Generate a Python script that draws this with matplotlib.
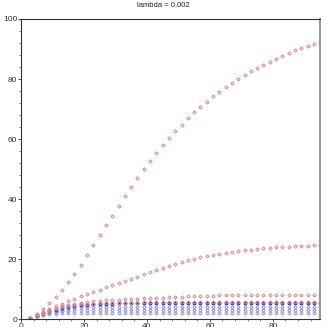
import matplotlib
matplotlib.use("Agg")
import matplotlib.pyplot as plt
from matplotlib.ticker import MultipleLocator

plt.rcParams['font.family'] = ['Liberation Sans', 'DejaVu Sans']

title = "lambda = 0.002"
x = list(range(3, 96, 2))

red1 = [0.5, 1.8, 3.5, 5.3, 7.3, 9.7, 12.3, 15.1, 18.1, 21.3, 24.6, 27.9, 31.2, 34.5, 37.7,
        41.0, 44.1, 47.1, 50.0, 52.8, 55.5, 58.0, 60.4, 62.6, 64.8, 66.9, 68.9, 70.7, 72.5,
        74.2, 75.7, 77.2, 78.6, 80.0, 81.3, 82.5, 83.7, 84.8, 85.8, 86.7, 87.7, 88.6, 89.5,
        90.3, 90.9, 91.7, 92.3]
red2 = [0.5, 1.5, 2.5, 3.4, 4.3, 5.2, 6.0, 6.8, 7.6, 8.4, 9.1, 9.8, 10.6, 11.3, 12.0,
        12.8, 13.5, 14.2, 15.0, 15.7, 16.4, 17.1, 17.8, 18.5, 19.1, 19.7, 20.2, 20.6, 21.0,
        21.4, 21.8, 22.2, 22.5, 22.8, 23.0, 23.2, 23.4, 23.6, 23.8, 24.0, 24.1, 24.2, 24.3,
        24.4, 24.5, 24.6, 24.7]
red3 = [0.5, 1.3, 2.2, 3.0, 3.7, 4.3, 4.8, 5.2, 5.5, 5.8, 6.0, 6.2, 6.3, 6.4, 6.5,
        6.6, 6.7, 6.8, 6.9, 7.0, 7.1, 7.2, 7.3, 7.4, 7.5, 7.6, 7.7, 7.7, 7.8,
        7.8, 7.9, 7.9, 7.9, 8.0, 8.0, 8.0, 8.0, 8.0, 8.0, 8.0, 8.0, 8.0, 8.0,
        8.0, 8.0, 8.0, 8.0]
red4 = [0.5, 1.2, 2.0, 2.8, 3.4, 3.9, 4.3, 4.6, 4.9, 5.1, 5.2, 5.3, 5.4, 5.4, 5.5,
        5.5, 5.5, 5.5, 5.6, 5.6, 5.6, 5.6, 5.6, 5.6, 5.6, 5.6, 5.6, 5.6, 5.6,
        5.6, 5.6, 5.6, 5.6, 5.6, 5.6, 5.6, 5.6, 5.6, 5.6, 5.6, 5.6, 5.6, 5.6,
        5.6, 5.6, 5.6, 5.6]
blue_dark = [0.5, 1.2, 1.9, 2.6, 3.2, 3.7, 4.1, 4.4, 4.6, 4.8, 5.0, 5.1, 5.2, 5.2, 5.3,
             5.3, 5.3, 5.3, 5.4, 5.4, 5.4, 5.4, 5.4, 5.4, 5.4, 5.5, 5.5, 5.5, 5.5,
             5.5, 5.5, 5.5, 5.5, 5.5, 5.5, 5.5, 5.5, 5.5, 5.5, 5.5, 5.5, 5.5, 5.5,
             5.5, 5.5, 5.5, 5.5]
blue1 = [0.5, 1.1, 1.7, 2.3, 2.8, 3.2, 3.5, 3.7, 3.9, 4.0, 4.1, 4.1, 4.2, 4.2, 4.2,
         4.2, 4.2, 4.2, 4.2, 4.2, 4.2, 4.2, 4.2, 4.2, 4.2, 4.2, 4.2, 4.2, 4.2,
         4.2, 4.2, 4.2, 4.2, 4.2, 4.2, 4.2, 4.2, 4.2, 4.2, 4.2, 4.2, 4.2, 4.2,
         4.2, 4.2, 4.2, 4.2]
blue2 = [0.5, 1.0, 1.5, 1.9, 2.3, 2.6, 2.8, 2.9, 3.0, 3.0, 3.1, 3.1, 3.1, 3.1, 3.1,
         3.1, 3.1, 3.1, 3.1, 3.1, 3.1, 3.1, 3.1, 3.1, 3.1, 3.1, 3.1, 3.1, 3.1,
         3.1, 3.1, 3.1, 3.1, 3.1, 3.1, 3.1, 3.1, 3.1, 3.1, 3.1, 3.1, 3.1, 3.1,
         3.1, 3.1, 3.1, 3.1]
blue3 = [0.5, 0.9, 1.3, 1.6, 1.8, 2.0, 2.1, 2.2, 2.2, 2.2, 2.2, 2.2, 2.2, 2.2, 2.2,
         2.2, 2.2, 2.2, 2.2, 2.2, 2.2, 2.2, 2.2, 2.2, 2.2, 2.2, 2.2, 2.2, 2.2,
         2.2, 2.2, 2.2, 2.2, 2.2, 2.2, 2.2, 2.2, 2.2, 2.2, 2.2, 2.2, 2.2, 2.2,
         2.2, 2.2, 2.2, 2.2]

fig = plt.figure(figsize=(3.27, 3.27), dpi=100)
ax = fig.add_axes([0.064, 0.024, 0.915, 0.918])

light_red = '#d88894'
light_blue = '#9494dc'
mk = dict(linestyle='none', marker='D', markersize=1.7, markerfacecolor='none', markeredgewidth=0.7)

for s in (blue3, blue2, blue1):
    ax.plot(x, s, markeredgecolor=light_blue, **mk)
ax.plot(x, blue_dark, linestyle='none', marker='o', markersize=1.8, color='#2a2ac8')
for s in (red4, red3, red2, red1):
    ax.plot(x, s, markeredgecolor=light_red, **mk)

ax.set_xlim(0, 95)
ax.set_ylim(0, 100)
ax.xaxis.set_major_locator(MultipleLocator(20))
ax.yaxis.set_major_locator(MultipleLocator(20))
ax.xaxis.set_minor_locator(MultipleLocator(4))
ax.yaxis.set_minor_locator(MultipleLocator(4))
ax.tick_params(axis='both', which='major', length=2, width=0.6, labelsize=6, colors='#333333', pad=0.5)
ax.tick_params(axis='both', which='minor', length=1.2, width=0.5, colors='#555555')
for side in ('left', 'bottom', 'top'):
    ax.spines[side].set_color('#333333')
    ax.spines[side].set_linewidth(0.8)
ax.spines['right'].set_color('#999999')
ax.spines['right'].set_linewidth(1.5)
fig.suptitle(title, fontsize=5.5, y=0.995, color='#222222')

fig.savefig('out.png', dpi=100)
